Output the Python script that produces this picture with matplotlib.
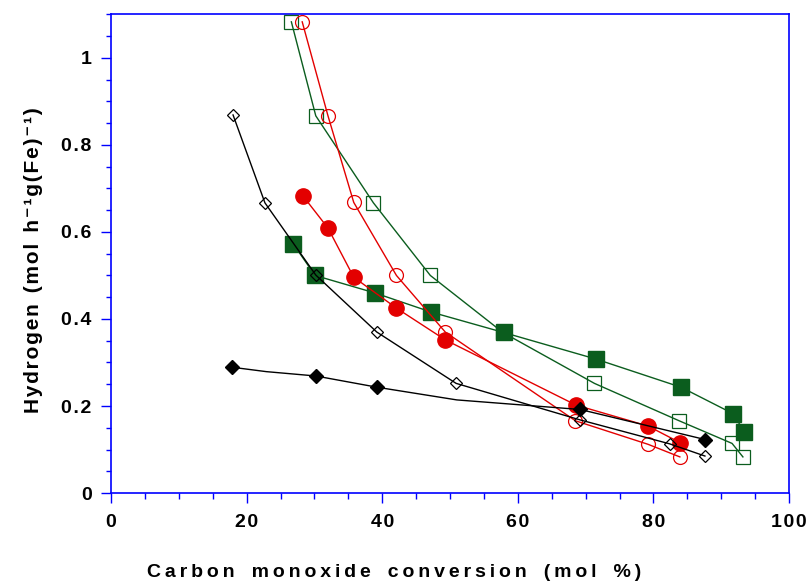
import numpy as np
import matplotlib
matplotlib.use("Agg")
import matplotlib.pyplot as plt
from matplotlib.ticker import MultipleLocator

plt.rcParams['font.family'] = ['Liberation Sans', 'DejaVu Sans']
plt.rcParams['font.weight'] = 'bold'

# CO conversion (mol %) vs H2 rate for each catalyst run
open_sq_x = [26.6, 30.2, 38.7, 47.1, 57.8, 71.3, 83.8, 91.6, 93.2]
open_sq_y = [1.083, 0.867, 0.667, 0.500, 0.369, 0.252, 0.166, 0.114, 0.083]

fill_sq_x = [26.9, 30.1, 38.9, 47.2, 57.9, 71.5, 84.1, 91.8, 93.4]
fill_sq_y = [0.572, 0.500, 0.460, 0.416, 0.369, 0.308, 0.243, 0.182, 0.140]

open_ci_x = [28.2, 32.0, 35.8, 42.1, 49.3, 68.5, 79.2, 83.9]
open_ci_y = [1.083, 0.867, 0.668, 0.500, 0.370, 0.166, 0.112, 0.083]

fill_ci_x = [28.3, 32.0, 35.8, 42.1, 49.3, 68.6, 79.2, 83.9]
fill_ci_y = [0.683, 0.609, 0.496, 0.425, 0.352, 0.202, 0.154, 0.116]

open_di_x = [18.0, 22.7, 30.2, 39.2, 50.9, 69.2, 82.4, 87.6]
open_di_y = [0.869, 0.667, 0.501, 0.370, 0.252, 0.168, 0.113, 0.085]

fill_di_x = [17.9, 22.9, 30.2, 39.3, 51.0, 69.2, 87.6]
fill_di_y = [0.289, 0.279, 0.269, 0.243, 0.214, 0.192, 0.123]
fill_di_marked = [0, 2, 3, 5, 6]

x_ticks = [0, 20, 40, 60, 80, 100]
y_ticks = [0, 0.2, 0.4, 0.6, 0.8, 1.0]
y_tick_labels = ['0', '0.2', '0.4', '0.6', '0.8', '1']

x_title = 'Carbon monoxide conversion (mol %)'
y_title = 'Hydrogen (mol h\u207b\u00b9g(Fe)\u207b\u00b9)'

green = '#0b5d1e'
red = '#e30000'
blue = '#0000ff'


def spread(s, gap='\u200a'):
    # widen the letter spacing a bit
    out = gap.join(s)
    return out.replace(gap + ' ' + gap, gap + ' ' + gap + gap)


fig = plt.figure(figsize=(8.08, 5.84), dpi=100)
ax = fig.add_axes([0.1374, 0.1558, 0.8391, 0.8202])

lw = 1.0
ax.plot(open_sq_x, open_sq_y, '-', color=green, lw=lw, marker='s', ms=10,
        mfc='none', mec=green, mew=0.9, clip_on=False, zorder=3)
ax.plot(fill_sq_x, fill_sq_y, '-', color=green, lw=lw, marker='s', ms=12,
        mfc=green, mec=green, clip_on=False, zorder=4)
ax.plot(open_ci_x, open_ci_y, '-', color=red, lw=lw, marker='o', ms=10,
        mfc='none', mec=red, mew=0.9, clip_on=False, zorder=5)
ax.plot(fill_ci_x, fill_ci_y, '-', color=red, lw=lw, marker='o', ms=11,
        mfc=red, mec=red, clip_on=False, zorder=6)
ax.plot(fill_di_x, fill_di_y, '-', color='black', lw=lw, marker='D', ms=6.8,
        mfc='black', mec='black', markevery=fill_di_marked, clip_on=False, zorder=7)
ax.plot(open_di_x, open_di_y, '-', color='black', lw=lw, marker='D', ms=6.5,
        mfc='none', mec='black', mew=0.9, clip_on=False, zorder=8)

ax.set_xlim(0, 100)
ax.set_ylim(0, 1.101)
ax.set_xticks(x_ticks)
ax.set_xticklabels([spread(str(t)) for t in x_ticks])
ax.xaxis.set_minor_locator(MultipleLocator(5))
ax.set_yticks(y_ticks)
ax.set_yticklabels([spread(t) for t in y_tick_labels])
ax.yaxis.set_minor_locator(MultipleLocator(0.05))

for s in ax.spines.values():
    s.set_color(blue)
    s.set_linewidth(1.2)
ax.tick_params(which='both', direction='out', color=blue, width=1.0,
               labelsize=14, top=False, right=False)
ax.tick_params(which='major', length=7)
ax.tick_params(axis='x', which='major', pad=8)
ax.tick_params(axis='y', which='major', pad=7)
ax.tick_params(axis='x', which='minor', length=4.5)
ax.tick_params(axis='y', which='minor', length=3.5)
for lab in ax.get_xticklabels() + ax.get_yticklabels():
    lab.set_fontweight('bold')

fig.text(0.4876, 0.0205, spread(x_title, '\u2009'), ha='center',
         va='center', fontsize=14, fontweight='bold')
fig.text(0.041, 0.555, spread(y_title, '\u200a'), ha='center', va='center',
         rotation=90, fontsize=15, fontweight='bold')

fig.savefig('out.png', dpi=100)
